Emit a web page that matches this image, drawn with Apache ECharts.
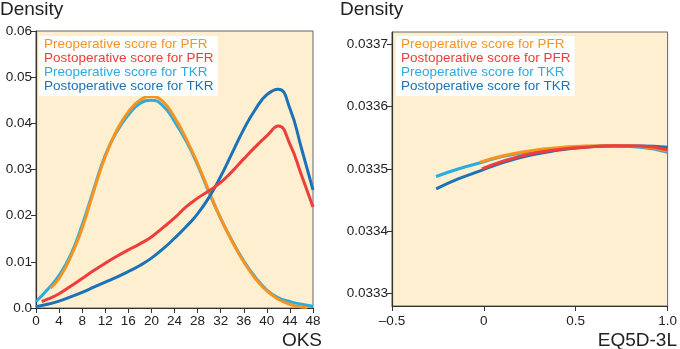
<!DOCTYPE html>
<html>
<head>
<meta charset="utf-8">
<script src="https://cdn.jsdelivr.net/npm/echarts@6/dist/echarts.min.js"></script>
<style>
  html, body { margin: 0; padding: 0; background: #fff; }
  #chart { width: 680px; height: 349px; }
</style>
</head>
<body>
<div id="chart"></div>
<script>
// series names / colours
var names = ['Preoperative score for PFR', 'Postoperative score for PFR', 'Preoperative score for TKR', 'Postoperative score for TKR'];
var colors = ['#f7931e', '#ee3d3a', '#2aabe2', '#1b72b8'];

// OKS density (left)
var prePfrX = [2.5, 4, 6, 8, 10, 12, 14, 16, 18, 20, 22, 24, 26, 28, 30, 32, 34, 36, 38, 40, 42, 44, 46, 47];
var prePfrY = [0.0043, 0.0064, 0.0110, 0.0173, 0.0253, 0.0328, 0.0385, 0.0425, 0.0450, 0.0458, 0.0447, 0.0413, 0.0367, 0.0313, 0.0252, 0.0194, 0.0144, 0.0100, 0.0064, 0.0037, 0.0019, 0.0008, 0.0002, 0.0001];
var postPfrX = [1, 2, 4, 6, 8, 10, 12, 14, 16, 18, 20, 22, 24, 26, 28, 30, 32, 34, 36, 38, 40, 42, 44, 46, 48];
var postPfrY = [0.0014, 0.0019, 0.0031, 0.0047, 0.0064, 0.0081, 0.0097, 0.0112, 0.0126, 0.0139, 0.0154, 0.0174, 0.0195, 0.0219, 0.0238, 0.0254, 0.0272, 0.0296, 0.0323, 0.0349, 0.0373, 0.0394, 0.0355, 0.0288, 0.0219];
var preTkrX = [0, 2, 4, 6, 8, 10, 12, 14, 16, 18, 20, 22, 24, 26, 28, 30, 32, 34, 36, 38, 40, 42, 44, 46, 48];
var preTkrY = [0.0014, 0.0040, 0.0071, 0.0115, 0.0180, 0.0257, 0.0331, 0.0382, 0.0418, 0.0443, 0.0450, 0.0438, 0.0404, 0.0362, 0.0310, 0.0250, 0.0194, 0.0145, 0.0102, 0.0067, 0.0039, 0.0022, 0.0014, 0.0008, 0.0004];
var postTkrX = [0, 2, 4, 6, 8, 10, 12, 14, 16, 18, 20, 22, 24, 26, 28, 30, 32, 34, 36, 38, 40, 42, 44, 46, 48];
var postTkrY = [0.0003, 0.0008, 0.0015, 0.0024, 0.0034, 0.0045, 0.0056, 0.0067, 0.0079, 0.0092, 0.0108, 0.0128, 0.0151, 0.0176, 0.0204, 0.0240, 0.0285, 0.0336, 0.0387, 0.0430, 0.0462, 0.0474, 0.0432, 0.0346, 0.0256];

// EQ5D-3L density (right)
var prePfrEqX = [-0.02, 0.1, 0.25, 0.4, 0.55, 0.7, 0.85, 1.0];
var prePfrEqY = [0.033511, 0.033521, 0.033529, 0.033534, 0.033537, 0.0335375, 0.033536, 0.033529];
var postPfrEqX = [-0.01, 0.1, 0.25, 0.4, 0.55, 0.7, 0.85, 1.0];
var postPfrEqY = [0.033500, 0.033512, 0.033524, 0.033531, 0.033535, 0.0335375, 0.033537, 0.033531];
var preTkrEqX = [-0.26, -0.14, -0.02, 0.1, 0.25, 0.4, 0.55, 0.7, 0.85, 1.0];
var preTkrEqY = [0.033488, 0.033500, 0.033510, 0.033520, 0.033528, 0.033533, 0.033536, 0.033537, 0.033535, 0.033527];
var postTkrEqX = [-0.26, -0.14, -0.02, 0.1, 0.25, 0.4, 0.55, 0.7, 0.85, 1.0];
var postTkrEqY = [0.033468, 0.033484, 0.033497, 0.033510, 0.033522, 0.033530, 0.033535, 0.033537, 0.033537, 0.033535];

// tick labels
var eqTicks = [0.0333, 0.0334, 0.0335, 0.0336, 0.0337];

var font = 'Liberation Sans, Arial, sans-serif';

function pairs(xs, ys) {
    return xs.map(function (x, i) { return [x, ys[i]]; });
}

function line(idx, xs, ys, axis) {
    return {
        name: names[idx],
        type: 'line',
        xAxisIndex: axis,
        yAxisIndex: axis,
        data: pairs(xs, ys),
        smooth: 0.5,
        symbol: 'none',
        lineStyle: { color: colors[idx], width: 3 },
        itemStyle: { color: colors[idx] },
        emphasis: { disabled: true }
    };
}

function legendAt(left) {
    return {
        left: left, top: 36,
        orient: 'vertical',
        icon: 'none',
        itemWidth: 0, itemHeight: 12.8, itemGap: 0,
        selectedMode: false,
        backgroundColor: '#fff',
        padding: [1, 4, 3, 0],
        textStyle: { fontFamily: font, fontSize: 13.5, lineHeight: 12.8 },
        data: names.map(function (n, i) {
            return { name: n, textStyle: { color: colors[i] } };
        })
    };
}

var axisCommon = {
    axisLine: { show: true, onZero: false, lineStyle: { color: '#333', width: 1.2 } },
    axisTick: { show: true, length: 5, lineStyle: { color: '#333' } },
    splitLine: { show: false },
    axisLabel: { color: '#222', fontFamily: font, fontSize: 13.5 }
};

var chart = echarts.init(document.getElementById('chart'));
window.addEventListener('resize', function () { chart.resize(); });

var option = {
    animation: false,
    backgroundColor: '#fff',
    title: [
        { text: 'Density', left: 0, top: 0, padding: 0, textStyle: { fontFamily: font, fontSize: 19, fontWeight: 'normal', color: '#222' } },
        { text: 'Density', left: 340, top: 0, padding: 0, textStyle: { fontFamily: font, fontSize: 19, fontWeight: 'normal', color: '#222' } },
        { text: 'OKS', right: 358, top: 331, padding: 0, textStyle: { fontFamily: font, fontSize: 19, fontWeight: 'normal', color: '#222' } },
        { text: 'EQ5D-3L', right: 3, top: 331, padding: 0, textStyle: { fontFamily: font, fontSize: 19, fontWeight: 'normal', color: '#222' } }
    ],
    legend: [legendAt(39), legendAt(396)],
    grid: [
        { left: 36, top: 31, width: 277, height: 277, show: true, backgroundColor: '#fdefd0', borderColor: '#666', borderWidth: 1 },
        { left: 392, top: 32, width: 276, height: 274, show: true, backgroundColor: '#fdefd0', borderColor: '#666', borderWidth: 1 }
    ],
    xAxis: [
        Object.assign({}, axisCommon, {
            type: 'value', gridIndex: 0, min: 0, max: 48, interval: 4,
            axisLabel: Object.assign({}, axisCommon.axisLabel, { margin: 6 })
        }),
        Object.assign({}, axisCommon, {
            type: 'value', gridIndex: 1, min: -0.5, max: 1.0, interval: 0.5,
            axisLabel: Object.assign({}, axisCommon.axisLabel, {
                margin: 8,
                formatter: function (v) {
                    if (v === 0) return '0';
                    return (v < 0 ? '\u2013' : '') + Math.abs(v).toFixed(1);
                }
            })
        })
    ],
    yAxis: [
        Object.assign({}, axisCommon, {
            type: 'value', gridIndex: 0, min: 0, max: 0.06, interval: 0.01,
            axisLabel: Object.assign({}, axisCommon.axisLabel, {
                margin: 4,
                formatter: function (v) { return v === 0 ? '0.0' : v.toFixed(2); }
            })
        }),
        Object.assign({}, axisCommon, {
            type: 'value', gridIndex: 1, min: 0.03328, max: 0.03372, scale: true,
            axisTick: { show: true, length: 5, lineStyle: { color: '#333' }, customValues: eqTicks },
            axisLabel: Object.assign({}, axisCommon.axisLabel, {
                margin: 4,
                customValues: eqTicks,
                formatter: function (v) { return v.toFixed(4); }
            })
        })
    ],
    series: [
        line(2, preTkrX, preTkrY, 0),
        line(0, prePfrX, prePfrY, 0),
        line(3, postTkrX, postTkrY, 0),
        line(1, postPfrX, postPfrY, 0),
        line(2, preTkrEqX, preTkrEqY, 1),
        line(3, postTkrEqX, postTkrEqY, 1),
        line(0, prePfrEqX, prePfrEqY, 1),
        line(1, postPfrEqX, postPfrEqY, 1)
    ]
};

chart.setOption(option);
</script>
</body>
</html>
